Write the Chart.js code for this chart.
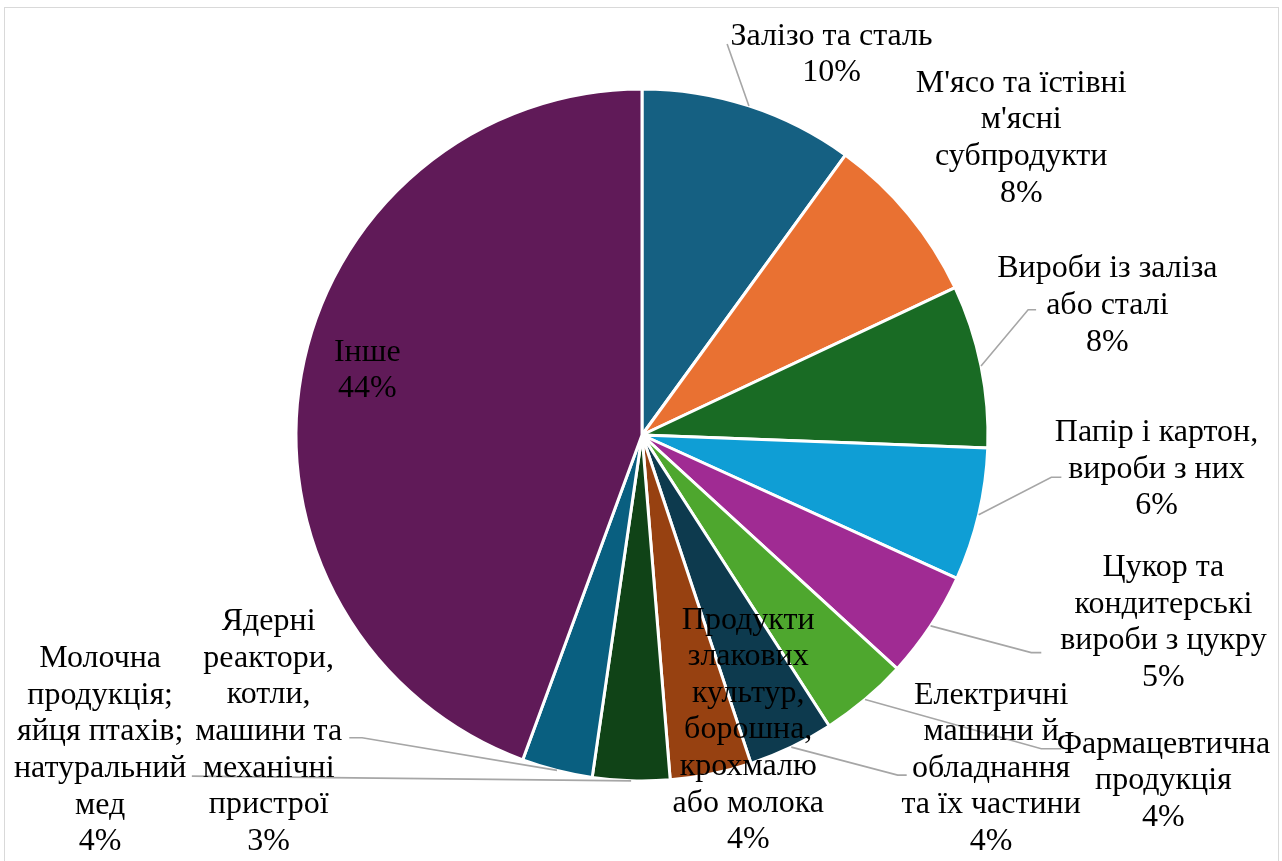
<!DOCTYPE html>
<html>
<head>
<meta charset="utf-8">
<script src="https://cdn.jsdelivr.net/npm/chart.js@4"></script>
<style>
  html, body { margin: 0; padding: 0; background: #fff; }
  #wrap { position: relative; width: 1282px; height: 861px; overflow: hidden; }
  #frame { position: absolute; left: 4px; top: 7px; width: 1273px; height: 900px; border: 1px solid #d9d9d9; }
  #box { position: absolute; left: 0; top: 0; width: 1282px; height: 861px; }
</style>
</head>
<body>
<div id="wrap">
  <div id="frame"></div>
  <div id="box"><canvas id="pie"></canvas></div>
</div>
<script>
// категорії (рядки підписів)
const categories = [
    ['Залізо та сталь'],
    ["М'ясо та їстівні", "м'ясні", 'субпродукти'],
    ['Вироби із заліза', 'або сталі'],
    ['Папір і картон,', 'вироби з них'],
    ['Цукор та', 'кондитерські', 'вироби з цукру'],
    ['Фармацевтична', 'продукція'],
    ['Електричні', 'машини й', 'обладнання', 'та їх частини'],
    ['Продукти', 'злакових', 'культур,', 'борошна,', 'крохмалю', 'або молока'],
    ['Молочна', 'продукція;', 'яйця птахів;', 'натуральний', 'мед'],
    ['Ядерні', 'реактори,', 'котли,', 'машини та', 'механічні', 'пристрої'],
    ['Інше']
];
// частки, %
const shares = [10.0, 8.0, 7.6, 6.2, 5.0, 4.1, 4.0, 3.8, 3.6, 3.3, 44.4];

const colors = ['#156082', '#e97132', '#196b24', '#0f9ed5', '#a02b93', '#4ea72e',
                '#0d3a4e', '#974111', '#104317', '#095f80', '#601a58'];

// розташування підписів: центр першого рядка, в радіусах від центру
const labelPos = [
    [0.548, -1.152], [1.096, -1.016], [1.345, -0.480], [1.487, -0.007],
    [1.507, 0.384], [1.507, 0.894], [1.009, 0.752], [0.307, 0.535],
    [-1.566, 0.647], [-1.079, 0.540], [-0.794, -0.239]
];
// лінії-виноски (точки від підпису до сектора), в радіусах
const leaders = [
    [[0.246, -1.130]],
    null,
    [[1.139, -0.362], [1.116, -0.362]],
    [[1.212, 0.122], [1.183, 0.122]],
    [[1.154, 0.629], [1.125, 0.629]],
    [[1.212, 0.907], [1.154, 0.907]],
    [[0.765, 0.983], [0.739, 0.983]],
    null,
    [[-1.301, 0.986]],
    [[-0.846, 0.875], [-0.809, 0.875]],
    null
];

const FONT = '32px "Liberation Serif", "Times New Roman", serif';
const LINE_H = 36.6;

const total = shares.reduce((a, b) => a + b, 0);

const labelPlugin = {
    id: 'pieLabels',
    afterDatasetsDraw(chart) {
        const ctx = chart.ctx;
        const arcs = chart.getDatasetMeta(0).data;
        ctx.save();
        // виноски
        ctx.strokeStyle = '#a6a6a6';
        ctx.lineWidth = 1.6;
        arcs.forEach((arc, i) => {
            if (!leaders[i]) return;
            const p = arc.getProps(['x', 'y', 'startAngle', 'endAngle', 'outerRadius'], true);
            const mid = (p.startAngle + p.endAngle) / 2;
            const r = p.outerRadius;
            ctx.beginPath();
            leaders[i].forEach((pt, k) => {
                const x = p.x + pt[0] * r, y = p.y + pt[1] * r;
                if (k === 0) ctx.moveTo(x, y); else ctx.lineTo(x, y);
            });
            ctx.lineTo(p.x + Math.cos(mid) * r, p.y + Math.sin(mid) * r);
            ctx.stroke();
        });
        // тексти
        ctx.fillStyle = '#000';
        ctx.font = FONT;
        ctx.textAlign = 'center';
        ctx.textBaseline = 'middle';
        arcs.forEach((arc, i) => {
            const p = arc.getProps(['x', 'y', 'outerRadius'], true);
            const r = p.outerRadius;
            const lines = categories[i].concat([Math.round(shares[i] / total * 100) + '%']);
            const cx = p.x + labelPos[i][0] * r;
            const cy = p.y + labelPos[i][1] * r;
            lines.forEach((t, k) => ctx.fillText(t, cx, cy + k * LINE_H));
        });
        ctx.restore();
    }
};

new Chart(document.getElementById('pie'), {
    type: 'pie',
    data: {
        labels: categories.map(c => c.join(' ')),
        datasets: [{
            data: shares,
            backgroundColor: colors,
            borderColor: '#ffffff',
            borderWidth: 3
        }]
    },
    options: {
        responsive: true,
        maintainAspectRatio: false,
        animation: false,
        radius: 346,
        layout: { padding: { left: 2, top: 9 } },
        plugins: { legend: { display: false }, tooltip: { enabled: false } }
    },
    plugins: [labelPlugin]
});
</script>
</body>
</html>
